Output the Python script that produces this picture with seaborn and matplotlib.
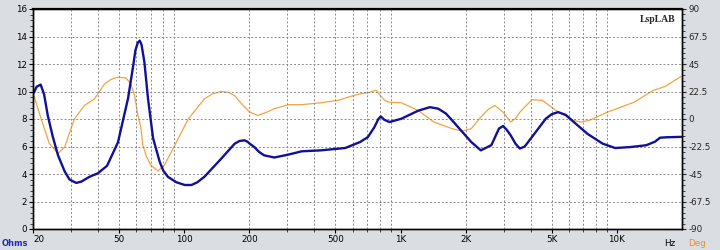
import numpy as np
import pandas as pd
import matplotlib
matplotlib.use("Agg")
import matplotlib.pyplot as plt
import seaborn as sns
from matplotlib.ticker import FixedLocator, NullFormatter, MultipleLocator

# ---- data ----
imp_freq = [20.0, 20.8, 21.7, 22.5, 23.4, 24.7, 26.1, 28.0, 29.5, 31.7, 33.5, 36.5, 39.9,
            44, 49.4, 55, 58, 59.5, 61, 62.3, 63.5, 65.5, 68, 71.8, 77, 80, 84, 92, 100.6,
            108, 115, 124, 148, 171, 180, 190, 196, 201, 211, 222, 234, 261, 303, 349,
            428, 555, 651, 707, 757, 790, 810, 840, 888, 1009, 1205, 1365, 1494, 1620,
            1732, 2122, 2350, 2630, 2850, 2980, 3100, 3230, 3400, 3560, 3750, 4050, 4690,
            5000, 5350, 5800, 6250, 7300, 8590, 9820, 11580, 13650, 15000, 15830, 16920,
            19800]
imp_ohm = [9.8, 10.35, 10.5, 9.8, 8.26, 6.7, 5.36, 4.2, 3.6, 3.35, 3.45, 3.8, 4.05,
           4.6, 6.3, 9.5, 11.8, 13.0, 13.55, 13.7, 13.4, 12.1, 9.5, 6.6, 4.9, 4.25, 3.8, 3.4, 3.2,
           3.2, 3.4, 3.8, 5.1, 6.2, 6.4, 6.45, 6.35, 6.2, 5.96, 5.6, 5.36, 5.2, 5.41, 5.65,
           5.72, 5.89, 6.33, 6.69, 7.41, 8.0, 8.19, 7.95, 7.78, 8.02, 8.6, 8.86, 8.75, 8.4,
           7.9, 6.33, 5.72, 6.1, 7.3, 7.49, 7.2, 6.81, 6.2, 5.85, 6.0, 6.69, 8.02,
           8.35, 8.5, 8.3, 7.85, 6.93, 6.21, 5.89, 5.96, 6.09, 6.35, 6.64, 6.67,
           6.7]

ph_freq = [20.0, 21.8, 23.8, 26.1, 28.0, 31.1, 34.6, 38.5, 42.9, 46, 49.4, 53.8, 56.5,
           59.0, 61.0, 63.0, 64.4, 67, 70.1, 75.6, 81, 90.4, 104.6, 124, 135, 148, 160,
           171, 185, 201, 219, 240, 261, 303, 349, 428, 512, 594, 651, 707, 771, 800, 845,
           888, 1009, 1205, 1427, 1732, 1923, 2122, 2350, 2550, 2730, 2980, 3230, 3400,
           3560, 4050, 4530, 5220, 5740, 6310, 6800, 7460, 9050, 11990, 14710, 16680,
           19800]
ph_deg = [21.4, 0.2, -20.1, -28.2, -23.0, 0.2, 11.1, 16.5, 28.8, 32.5, 34.2, 33.6, 29.0,
          19.2, 3.4, -6.8, -21.5, -31.0, -37.8, -42.5, -37.8, -21.5, 0.2, 16.5, 20.5, 22.5,
          21.8, 19.2, 12.0, 5.6, 2.9, 5.5, 8.4, 11.7, 11.7, 13.3, 15.2, 18.7, 20.6, 21.4,
          23.6, 20.0, 15.2, 13.7, 13.3, 7.0, -2.5, -7.9, -9.9, -7.9, 1.6, 8.0, 11.1, 5.6,
          -2.5, 0.5, 5.6, 15.8, 15.2, 7.0, 2.9, -1.1, -2.5, -1.1, 5.6, 13.7, 23.3, 26.6,
          34.8]

x_ticks = [20, 50, 100, 200, 500, 1000, 2000, 5000, 10000]
x_tick_labels = ["20", "50", "100", "200", "500", "1K", "2K", "5K", "10K"]
ohm_ticks = [0, 2, 4, 6, 8, 10, 12, 14, 16]
deg_ticks = [-90, -67.5, -45, -22.5, 0, 22.5, 45, 67.5, 90]
deg_labels = ["-90", "-67.5", "-45", "-22.5", "0", "22.5", "45", "67.5", "90"]

imp_df = pd.DataFrame({"freq": imp_freq, "ohm": imp_ohm})
ph_df = pd.DataFrame({"freq": ph_freq, "deg": ph_deg})

sns.set_style("white")
plt.rcParams["font.family"] = ["DejaVu Sans"]

BLUE = "#10109a"
ORANGE = "#f2a443"
GRIDC = "#8c8c8c"

fig = plt.figure(figsize=(7.2, 2.5), dpi=100, facecolor="#dadee3")
ax = fig.add_axes([33/720, 1-229/250, 649/720, 220/250])
ax.set_facecolor("white")
ax2 = ax.twinx()

ax.set_xscale("log")
ax.set_xlim(20, 20000)
ax.set_ylim(0, 16)
minor_x = []
for dec in [10, 100, 1000, 10000]:
    for m in range(2, 10):
        v = m * dec
        if 20 < v < 20000:
            minor_x.append(v)
for v in minor_x:
    if v in (100, 1000, 10000):
        ax.axvline(v, color="#a8a8a8", lw=1.0, zorder=0)
    else:
        ax.axvline(v, color=GRIDC, lw=0.7, ls=(0, (2, 2)), zorder=0)
for v in [2, 4, 6, 8, 10, 12, 14]:
    ax.axhline(v, color=GRIDC, lw=0.7, ls=(0, (2, 2)), zorder=0)

sns.lineplot(data=ph_df, x="freq", y="deg", ax=ax2, color=ORANGE, lw=0.9,
             estimator=None, sort=False, legend=False)
sns.lineplot(data=imp_df, x="freq", y="ohm", ax=ax, color=BLUE, lw=1.7,
             estimator=None, sort=False, legend=False)
for ln in ax.lines + ax2.lines:
    ln.set_solid_joinstyle("round")
ax.set_zorder(ax2.get_zorder() + 1)
ax.patch.set_visible(False)
ax2.patch.set_visible(True)
ax2.set_facecolor("white")

ax2.set_ylim(-90, 90)
ax2.set_xscale("log")
ax2.set_xlim(20, 20000)

for a in (ax, ax2):
    a.set_xlabel("")
    a.set_ylabel("")

ax.xaxis.set_major_locator(FixedLocator(x_ticks))
ax.set_xticklabels(x_tick_labels)
ax.get_xticklabels()[0].set_horizontalalignment("left")
ax.xaxis.set_minor_locator(FixedLocator(minor_x))
ax.xaxis.set_minor_formatter(NullFormatter())
ax.set_yticks(ohm_ticks)
ax.yaxis.set_minor_locator(MultipleLocator(0.4))
ax2.set_yticks(deg_ticks)
ax2.set_yticklabels(deg_labels)
ax2.yaxis.set_minor_locator(MultipleLocator(4.5))

ax.tick_params(axis="both", which="major", direction="out", length=3, width=0.8,
               labelsize=6.3, colors="black", pad=1.5)
ax.tick_params(axis="both", which="minor", direction="out", length=2, width=0.6)
ax.tick_params(axis="y", which="both", left=True, right=False)
ax.tick_params(axis="x", which="both", bottom=True)
ax2.tick_params(axis="y", which="major", direction="out", length=3, width=0.8,
                labelsize=6.3, pad=1.5)
ax2.tick_params(axis="y", which="minor", direction="out", length=2, width=0.6)
ax2.tick_params(axis="x", which="both", bottom=False, top=False, labelbottom=False)

for a in (ax, ax2):
    for s in a.spines.values():
        s.set_color("black")
        s.set_linewidth(1.0)
ax.spines["top"].set_linewidth(1.6)

ax.text(-0.008, -0.045, "Ohms", transform=ax.transAxes, ha="right", va="top",
        fontsize=6.0, color="#2030b0", fontweight="bold")
ax.text(0.99, -0.045, "Hz", transform=ax.transAxes, ha="right", va="top",
        fontsize=6.3, color="black")
ax.text(1.01, -0.045, "Deg", transform=ax.transAxes, ha="left", va="top",
        fontsize=6.3, color="#e8902c")
ax.text(0.99, 0.975, "LspLAB", transform=ax.transAxes, ha="right", va="top",
        fontsize=7, fontweight="bold", family=["Liberation Serif", "DejaVu Serif"])

fig.savefig("out.png", dpi=100, facecolor=fig.get_facecolor())
